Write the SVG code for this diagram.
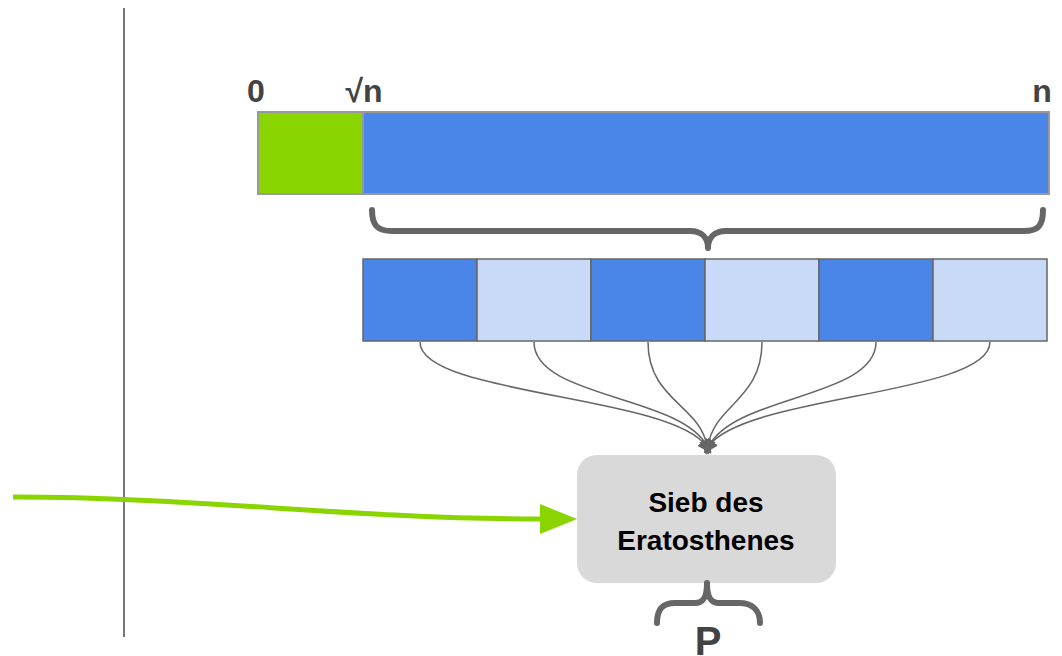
<svg xmlns="http://www.w3.org/2000/svg" width="1062" height="656" viewBox="0 0 1062 656">
<defs>
<style>
.lbl{font-family:"Liberation Sans",Arial,sans-serif;font-weight:bold;fill:#434343;}
.ntxt{font-family:"Liberation Sans",Arial,sans-serif;font-weight:bold;font-size:28px;fill:#000;text-anchor:middle;}
.brace{fill:none;stroke:#666;stroke-width:6;stroke-linecap:round;stroke-linejoin:round;}
.conn{fill:none;stroke:#666;stroke-width:1.5;}
.dark{fill:#4a86e8;stroke:#666;stroke-width:1.5;}
.light{fill:#c9daf8;stroke:#666;stroke-width:1.5;}
</style>
<marker id="ah" markerWidth="14" markerHeight="14" refX="5" refY="7" orient="auto" markerUnits="userSpaceOnUse" viewBox="0 0 14 14">
<path d="M0,0 L14,7 L0,14 Z" fill="#666"/>
</marker>
</defs>
<rect width="1062" height="656" fill="#fff"/>
<line x1="124" y1="8" x2="124" y2="637" stroke="#777" stroke-width="2"/>
<g id="labels">
<text class="lbl" x="256" y="102" font-size="32" text-anchor="middle">0</text>
<text class="lbl" x="364" y="102" font-size="32" text-anchor="middle">√n</text>
<text class="lbl" x="1042" y="102" font-size="32" text-anchor="middle">n</text>
</g>
<g id="bar">
<rect x="258" y="112" width="105" height="82" fill="#8ad400" stroke="#999" stroke-width="2"/>
<rect x="363" y="112" width="686" height="82" fill="#4a86e8" stroke="#999" stroke-width="2"/>
</g>
<path id="topbrace" class="brace" d="M372,210 C372,226 378,231 392,231 L690,231 C702,231 708,238 708,248 C708,238 714,231 726,231 L1024,231 C1038,231 1043,226 1043,210"/>
<g id="segments">
<rect class="dark" x="363" y="259" width="114" height="82"/>
<rect class="light" x="477" y="259" width="114" height="82"/>
<rect class="dark" x="591" y="259" width="114" height="82"/>
<rect class="light" x="705" y="259" width="114" height="82"/>
<rect class="dark" x="819" y="259" width="114" height="82"/>
<rect class="light" x="933" y="259" width="114" height="82"/>
</g>
<g id="connectors">
<path class="conn" marker-end="url(#ah)" d="M420,342 C420,395 670,395 706,446"/>
<path class="conn" marker-end="url(#ah)" d="M534,342 C534,398 680,395 707,446"/>
<path class="conn" marker-end="url(#ah)" d="M648,342 C648,400 700,405 707,446"/>
<path class="conn" marker-end="url(#ah)" d="M762,342 C762,400 714,405 708,446"/>
<path class="conn" marker-end="url(#ah)" d="M876,342 C876,398 735,395 709,446"/>
<path class="conn" marker-end="url(#ah)" d="M990,342 C990,395 745,395 709,446"/>
<path d="M13,497 C200,497 350,519 542,519" fill="none" stroke="#8ad400" stroke-width="5"/>
<polygon points="540,504 577,519 540,534" fill="#8ad400"/>
</g>
<g id="node-sieb">
<rect x="577" y="455" width="259" height="128" rx="20" fill="#d9d9d9"/>
<text class="ntxt" x="706" y="512">Sieb des</text>
<text class="ntxt" x="706" y="550">Eratosthenes</text>
</g>
<path id="bottombrace" class="brace" d="M657,623 C657,610 662,603 675,603 L695,603 C703,603 707,598 707,583 C707,598 711,603 719,603 L739,603 C752,603 760,610 760,623"/>
<text class="lbl" x="708" y="655" font-size="40" text-anchor="middle">P</text>
</svg>
